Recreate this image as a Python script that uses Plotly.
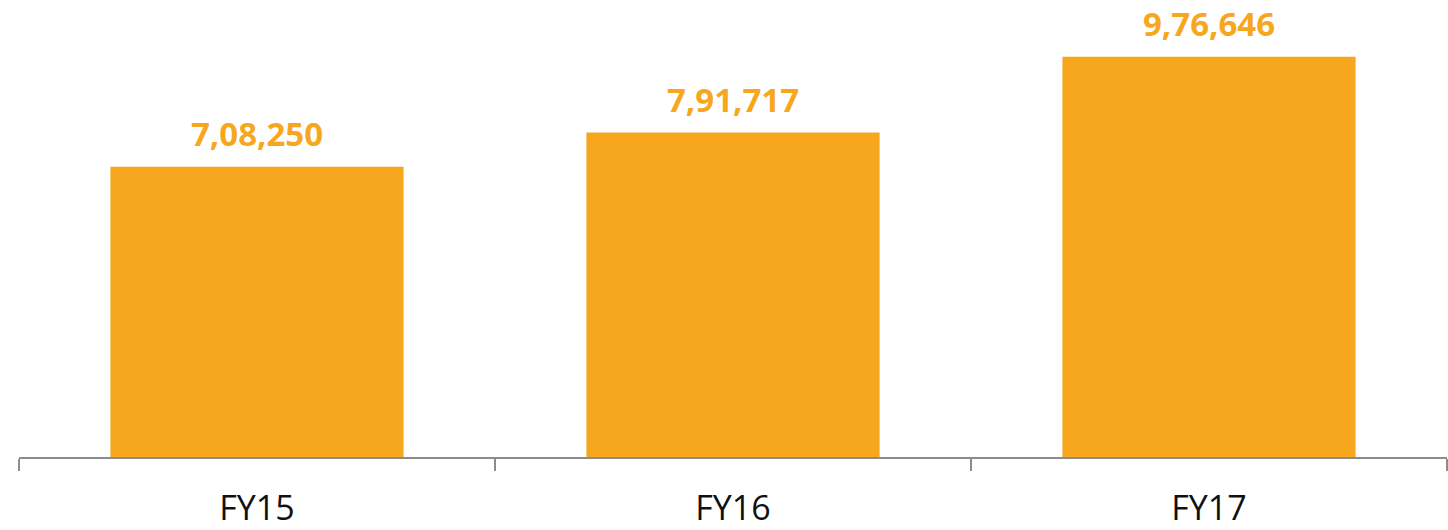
import plotly.graph_objects as go

categories = ["FY15", "FY16", "FY17"]
values = [708250, 791717, 976646]

def indian(n):
    s = str(int(n))
    if len(s) <= 3:
        return s
    last3 = s[-3:]
    rest = s[:-3]
    parts = []
    while len(rest) > 2:
        parts.insert(0, rest[-2:])
        rest = rest[:-2]
    if rest:
        parts.insert(0, rest)
    return ",".join(parts) + "," + last3

labels = [indian(v) for v in values]
orange = "#F7A71E"

fig = go.Figure(go.Bar(
    x=categories, y=values, marker=dict(color=orange, line=dict(width=0)),
))

for c, v, t in zip(categories, values, labels):
    fig.add_annotation(
        x=c, y=v, text=t, showarrow=False, yanchor="bottom", yshift=9,
        font=dict(family="Open Sans", size=33, color=orange, weight="bold"),
    )

fig.update_layout(
    width=1448, height=530,
    margin=dict(l=19, r=1, t=0, b=73),
    paper_bgcolor="white", plot_bgcolor="white",
    bargap=0.384, showlegend=False,
    font=dict(family="Open Sans"),
)
fig.update_xaxes(
    showline=True, linecolor="#8c8c8c", linewidth=2,
    ticks="outside", tickson="boundaries", ticklen=12, tickwidth=2, tickcolor="#8c8c8c",
    tickfont=dict(family="Open Sans", size=34, color="#111111"),
    ticklabelstandoff=20,
    showgrid=False,
)
fig.update_yaxes(range=[0, 1115000], visible=False, showgrid=False, zeroline=False)

fig.write_html("out.html")
